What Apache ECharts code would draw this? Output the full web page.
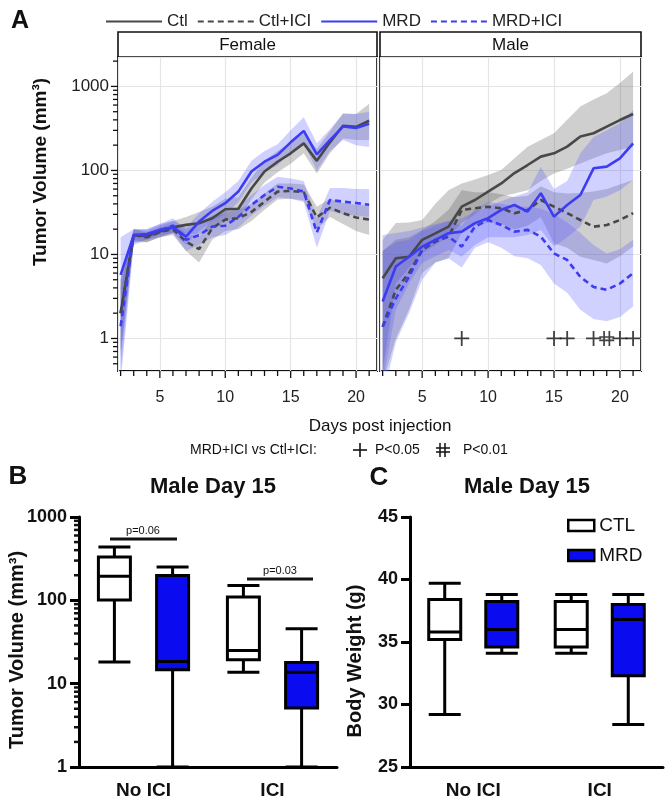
<!DOCTYPE html>
<html>
<head>
<meta charset="utf-8">
<script src="https://cdn.jsdelivr.net/npm/echarts@6/dist/echarts.min.js"></script>
<style>
  html, body { margin: 0; padding: 0; background: #fff; }
  #chart { width: 665px; height: 800px; }
</style>
</head>
<body>
<div id="chart"></div>
<script>
// ── Datos panel A (volumen tumoral, media y banda) ─────────────────────────
const days = [2, 3, 4, 5, 6, 7, 8, 9, 10, 11, 12, 13, 14, 15, 16, 17, 18, 19, 20, 21];

// Female
const fCtl   = [2.0, 17, 16.5, 18.7, 21, 22.5, 23.5, 27, 34.5, 35, 61, 97, 127, 160, 210, 130, 216, 340, 330, 390];
const fCtlLo = [0.6, 14, 14, 16, 18, 18, 17, 20, 25, 26, 45, 72, 95, 120, 160, 92, 160, 240, 230, 230];
const fCtlHi = [5, 20, 19, 22, 25, 28, 32, 37, 46, 48, 82, 130, 170, 215, 275, 180, 290, 480, 470, 620];
const fMrd   = [5.7, 17, 17.5, 19.6, 21, 16.3, 24.6, 33, 40.7, 56, 97, 127, 153, 216, 295, 155, 230, 333, 320, 360];
const fMrdLo = [0.3, 13, 15, 17, 18, 13, 19, 25, 30, 42, 72, 95, 115, 165, 210, 100, 170, 230, 200, 190];
const fMrdHi = [16, 20, 20, 23, 25, 21, 31, 42, 55, 75, 130, 170, 205, 300, 430, 210, 310, 470, 470, 500];
const fCi    = [2.0, 17, 16, 18.5, 20, 14.2, 11.6, 20.5, 26, 27, 32, 42.5, 56, 57, 55, 27.6, 36, 31, 27.5, 26];
const fCiLo  = [0.7, 15, 14, 16, 17, 11, 8, 15, 19, 20, 25, 34, 45, 46, 44, 20, 28, 23, 19, 17];
const fCiHi  = [5, 20, 18, 21, 23, 18, 16, 27, 33, 34, 40, 53, 70, 70, 68, 37, 46, 41, 39, 38];
const fMi    = [1.4, 17, 17, 19, 22, 14.9, 17, 21.5, 22, 28, 38.7, 51, 64, 61, 56, 18.3, 44.5, 42.5, 41, 39];
const fMiLo  = [0.4, 14, 15, 16, 18, 11, 13, 16, 17, 21, 29, 38, 48, 46, 42, 12, 33, 30, 29, 28];
const fMiHi  = [4, 20, 20, 23, 27, 20, 23, 29, 30, 37, 51, 67, 84, 80, 75, 27, 62, 62, 60, 60];

// Male
const mCtl   = [5.2, 9.0, 9.4, 14.9, 17.8, 21.4, 37, 44.5, 56, 70, 93, 116, 146, 160, 192, 253, 277, 333, 398, 470];
const mCtlLo = [0.4, 4.5, 7, 10.3, 13, 16.3, 23.6, 30, 40, 49, 53, 58, 75, 92, 105, 121, 140, 160, 175, 192];
const mCtlHi = [14.9, 23.6, 24, 25.7, 40, 58, 70, 78, 88, 101, 140, 192, 230, 277, 400, 575, 700, 830, 1100, 1500];
const mMrd   = [2.75, 7.2, 9.4, 12.4, 14.9, 17.9, 18.7, 23.6, 27, 34, 38.8, 32.4, 53.5, 28.2, 38.8, 51, 106, 111, 139, 210];
const mMrdLo = [0.3, 2.2, 4.5, 7.9, 9.5, 11.3, 9.4, 13, 16, 16, 16, 17, 19.6, 12.4, 16, 21.4, 44.5, 49, 58, 77];
const mMrdHi = [17, 18, 19, 21, 23, 25, 27, 32, 37, 43, 49, 55, 110, 60, 75, 160, 250, 300, 364, 525];
const mCi    = [1.38, 3.8, 6.0, 11.3, 14.2, 16.3, 33.8, 35.4, 37, 35.4, 31, 33.8, 44.5, 37, 31, 25.7, 21.4, 22.4, 25.7, 31];
const mCiLo  = [0.3, 1.0, 2.2, 6, 8, 9, 18, 22, 24, 23, 20, 22, 28, 13.5, 12, 9.4, 8.6, 7.8, 9.5, 12.4];
const mCiHi  = [11, 15, 16, 19.6, 25, 34, 58, 55, 55, 52, 48, 50, 65, 55, 53, 54, 56, 60, 68, 77];
const mMi    = [1.38, 3.0, 5.4, 11.3, 14.9, 16.3, 12.4, 21.4, 25.7, 22.4, 18.7, 19.6, 16.3, 10.3, 8.6, 5.4, 4.1, 3.8, 4.5, 6.0];
const mMiLo  = [0.2, 0.9, 2, 5, 8, 9, 7, 12, 14, 12, 9.5, 9, 7.5, 4.5, 3.5, 2.2, 1.7, 1.6, 1.8, 2.4];
const mMiHi  = [11, 14, 15, 19, 22, 25, 22, 35, 42, 40, 37, 37, 35, 30, 24, 18, 13, 10.3, 11.5, 15];

// Significancia MRD+ICI vs Ctl+ICI (Male)
const plusDays = [8, 15, 16, 18, 20, 21];
const hashDays = [19];

// ── Datos paneles B y C: [min, Q1, mediana, Q3, max] ───────────────────────
const groups = ["No ICI", "ICI"];
const tumorCtl = [[18.2, 101, 194, 330, 437], [13.7, 19.4, 25, 110, 151]];
const tumorMrd = [[1, 14.7, 18.4, 198, 251], [1, 5.1, 13.7, 18, 45.7]];
const weightCtl = [[29.2, 35.2, 35.8, 38.4, 39.7], [34.1, 34.6, 36.0, 38.25, 38.8]];
const weightMrd = [[34.1, 34.6, 36.0, 38.25, 38.8], [28.4, 32.3, 36.8, 38.0, 38.8]];

// ── Estilos ─────────────────────────────────────────────────────────────────
const FONT = "'Liberation Sans', Arial, sans-serif";
const gris = "#484848";
const azul = "#3c3cf2";
const bandaGris = "rgba(95,95,95,0.30)";
const bandaAzul = "rgba(85,85,255,0.27)";
const azulCaja = "#0b0bf0";
const rejilla = "#e4e4e4";

const pares = (vals) => days.map((d, i) => [d, vals[i]]);

// banda (poligono) entre lo y hi, calculada con la escala del eje
const banda = (eje, lo, hi, color) => ({
   type: "custom", xAxisIndex: eje, yAxisIndex: eje, silent: true, clip: true, z: 1,
   data: days.map((d, i) => [d, lo[i], hi[i]]),
   encode: { x: 0, y: [1, 2] },
   renderItem: (params, api) => {
      if (params.dataIndex !== 0) return null;
      const arriba = days.map((d, i) => api.coord([d, hi[i]]));
      const abajo = days.map((d, i) => api.coord([d, lo[i]])).reverse();
      const cs = params.coordSys;
      return {
         type: "polygon",
         shape: { points: arriba.concat(abajo) },
         style: { fill: color },
         clipPath: { type: "rect", shape: { x: cs.x, y: cs.y, width: cs.width, height: cs.height } }
      };
   }
});

const linea = (eje, nombre, vals, color, punteada) => ({
   name: nombre, type: "line", xAxisIndex: eje, yAxisIndex: eje,
   data: pares(vals), symbol: "none", z: 4, silent: true,
   itemStyle: { color: color },
   lineStyle: { color: color, width: 2.6, type: punteada ? [6, 4] : "solid" }
});

// marcas de eje dibujadas con la escala de la libreria
const marcas = (eje, datos, largoMayor, largoMenor, grosor) => ({
   type: "custom", xAxisIndex: eje, yAxisIndex: eje, silent: true, clip: false, z: 6,
   data: datos,
   renderItem: (params, api) => {
      const cs = params.coordSys;
      const tipo = api.value(2);
      const largo = api.value(3) ? largoMayor : largoMenor;
      const p = api.coord([api.value(0), api.value(1)]);
      if (tipo === 0) {
         const y0 = cs.y + cs.height;
         return { type: "line", shape: { x1: p[0], y1: y0, x2: p[0], y2: y0 + largo }, style: { stroke: "#111", lineWidth: grosor } };
      }
      return { type: "line", shape: { x1: cs.x - largo, y1: p[1], x2: cs.x, y2: p[1] }, style: { stroke: "#111", lineWidth: grosor } };
   }
});

const marcasX = days.map(d => [d, 1, 0, d % 5 === 0 ? 1 : 0]);
const marcasYLog = (desde, hasta, lo, hi, xRef) => {
   const res = [];
   for (let k = desde; k <= hasta; k++) {
      for (let m = 1; m <= 9; m++) {
         const v = m * Math.pow(10, k);
         if (v >= lo && v <= hi) res.push([xRef, v, 1, m === 1 ? 1 : 0]);
      }
   }
   return res;
};
const marcasFemale = marcasX.concat(marcasYLog(-1, 3, 0.42, 2200, 5));
const marcasB = marcasYLog(0, 2, 1.5, 950, 0).filter(m => m[3] === 0);

const ejeDias = (grid) => ({
   type: "value", gridIndex: grid, min: 1.8, max: 21.6, splitNumber: 4,
   axisLine: { show: false }, axisTick: { show: false },
   axisLabel: { fontSize: 16, color: "#222", fontFamily: FONT, margin: 19, showMinLabel: false, showMaxLabel: false },
   splitLine: { lineStyle: { color: rejilla, width: 1.2 } }
});

const ejeVolumen = (grid, etiquetas) => ({
   type: "log", logBase: 10, gridIndex: grid, min: 0.41, max: 2240,
   axisLine: { show: false }, axisTick: { show: false },
   axisLabel: {
      show: etiquetas, fontSize: 17, color: "#222", fontFamily: FONT, margin: 9,
      showMinLabel: false, showMaxLabel: false,
      formatter: v => String(Math.round(v))
   },
   splitLine: { lineStyle: { color: rejilla, width: 1.2 } }
});

const ejeGrupo = (grid) => ({
   type: "category", gridIndex: grid, data: groups,
   axisLine: { lineStyle: { color: "#000", width: 3 } },
   axisTick: { alignWithLabel: true, length: 10, lineStyle: { color: "#000", width: 3 } },
   axisLabel: { fontSize: 19, fontWeight: "bold", color: "#111", fontFamily: FONT, margin: 14 },
   splitLine: { show: false }
});

const ejeNegrita = {
   axisLine: { show: true, lineStyle: { color: "#000", width: 3 } },
   axisTick: { show: true, length: 9, lineStyle: { color: "#000", width: 3 } },
   axisLabel: { fontSize: 18, fontWeight: "bold", color: "#111", fontFamily: FONT, margin: 12 },
   splitLine: { show: false }
};

const caja = (eje, nombre, datos, relleno) => ({
   name: nombre, type: "boxplot", xAxisIndex: eje, yAxisIndex: eje,
   data: datos, boxWidth: [32, 32], silent: true,
   itemStyle: { color: relleno, borderColor: "#000", borderWidth: 3 }
});

const texto = (t, x, y, size, extra) => ({
   type: "text", x: x, y: y, silent: true,
   style: { text: t, fontSize: size, fontFamily: FONT, fill: "#111", align: "center", verticalAlign: "middle", ...(extra || {}) }
});
const textoVertical = (t, x, y, size) => ({ ...texto(t, x, y, size, { fontWeight: "bold" }), rotation: Math.PI / 2 });
const trazo = (x1, y1, x2, y2, w) => ({
   type: "line", silent: true, shape: { x1, y1, x2, y2 }, style: { stroke: "#111", lineWidth: w }
});
const tiraPanel = (x, w, t) => ([
   { type: "rect", silent: true, shape: { x: x, y: 32, width: w, height: 25 }, style: { fill: "#fff", stroke: "#111", lineWidth: 1.6 } },
   texto(t, x + w / 2, 45, 17)
]);

const chart = echarts.init(document.getElementById("chart"));

chart.setOption({
   animation: false,
   backgroundColor: "#fff",
   textStyle: { fontFamily: FONT },
   grid: [
      { left: 118, top: 57, width: 259, height: 314, show: true, borderColor: "#111", borderWidth: 1.8, backgroundColor: "transparent" },
      { left: 380, top: 57, width: 261, height: 314, show: true, borderColor: "#111", borderWidth: 1.8, backgroundColor: "transparent" },
      { left: 79, top: 517, width: 258, height: 250 },
      { left: 410, top: 517, width: 253, height: 250 }
   ],
   xAxis: [ejeDias(0), ejeDias(1), ejeGrupo(2), ejeGrupo(3)],
   yAxis: [
      ejeVolumen(0, true),
      ejeVolumen(1, false),
      { type: "log", logBase: 10, gridIndex: 2, min: 1, max: 1000, ...ejeNegrita,
        axisLabel: { ...ejeNegrita.axisLabel, formatter: v => String(Math.round(v)) } },
      { type: "value", gridIndex: 3, min: 25, max: 45, interval: 5, ...ejeNegrita }
   ],
   legend: [
      {
         data: ["Ctl", "Ctl+ICI", "MRD", "MRD+ICI"],
         left: 100, top: 8, itemWidth: 56, itemHeight: 16, itemGap: 9,
         selectedMode: false,
         itemStyle: { color: "rgba(0,0,0,0)", borderWidth: 0, opacity: 0 },
         textStyle: { fontSize: 17, color: "#222", fontFamily: FONT }
      },
      {
         data: [
            { name: "CTL", icon: "rect", itemStyle: { color: "#fff", borderColor: "#000", borderWidth: 2.5 } },
            { name: "MRD ", icon: "rect", itemStyle: { color: azulCaja, borderColor: "#000", borderWidth: 2.5 } }
         ],
         formatter: n => n.trim(),
         orient: "vertical", left: 562, top: 511, itemWidth: 26, itemHeight: 11, itemGap: 11,
         selectedMode: false,
         textStyle: { fontSize: 19, color: "#111", fontFamily: FONT }
      }
   ],
   series: [
      // bandas
      banda(0, fCtlLo, fCtlHi, bandaGris),
      banda(0, fCiLo, fCiHi, bandaGris),
      banda(0, fMrdLo, fMrdHi, bandaAzul),
      banda(0, fMiLo, fMiHi, bandaAzul),
      banda(1, mCtlLo, mCtlHi, bandaGris),
      banda(1, mCiLo, mCiHi, bandaGris),
      banda(1, mMrdLo, mMrdHi, bandaAzul),
      banda(1, mMiLo, mMiHi, bandaAzul),
      // medias
      linea(0, "Ctl", fCtl, gris, false),
      linea(0, "Ctl+ICI", fCi, gris, true),
      linea(0, "MRD", fMrd, azul, false),
      linea(0, "MRD+ICI", fMi, azul, true),
      linea(1, "Ctl", mCtl, gris, false),
      linea(1, "Ctl+ICI", mCi, gris, true),
      linea(1, "MRD", mMrd, azul, false),
      linea(1, "MRD+ICI", mMi, azul, true),
      // significancia
      {
         type: "scatter", xAxisIndex: 1, yAxisIndex: 1, silent: true, z: 7,
         data: plusDays.map(d => [d, 1]),
         symbol: "path://M6.6,0H8.4V15H6.6Z M0,6.6H15V8.4H0Z", symbolSize: 15,
         itemStyle: { color: "#111" }
      },
      {
         type: "scatter", xAxisIndex: 1, yAxisIndex: 1, silent: true, z: 7,
         data: hashDays.map(d => [d, 1]),
         symbol: "path://M4,0H5.7V15H4Z M9.3,0H11V15H9.3Z M0,5.2H15V6.8H0Z M0,8.6H15V10.2H0Z", symbolSize: 15,
         itemStyle: { color: "#111" }
      },
      // marcas de ejes
      marcas(0, marcasFemale, 7, 5, 1.3),
      marcas(1, marcasX, 7, 5, 1.3),
      marcas(2, marcasB, 9, 5, 2.5),
      // cajas
      caja(2, "CTL", tumorCtl, "#fff"),
      caja(2, "MRD ", tumorMrd, azulCaja),
      caja(3, "CTL", weightCtl, "#fff"),
      caja(3, "MRD ", weightMrd, azulCaja)
   ],
   graphic: [
      texto("A", 20, 21, 25, { fontWeight: "bold" }),
      ...tiraPanel(118, 259, "Female"),
      ...tiraPanel(380, 261, "Male"),
      textoVertical("Tumor Volume (mm³)", 41, 172, 19),
      texto("Days post injection", 380, 426, 17),
      texto("MRD+ICI vs Ctl+ICI:", 190, 450, 14, { align: "left" }),
      trazo(353, 450, 367, 450, 1.6), trazo(360, 443, 360, 457, 1.6),
      texto("P<0.05", 375, 450, 14, { align: "left" }),
      trazo(440, 443, 440, 457, 1.5), trazo(445, 443, 445, 457, 1.5),
      trazo(436, 448, 450, 448, 1.5), trazo(436, 452, 450, 452, 1.5),
      texto("P<0.01", 463, 450, 14, { align: "left" }),
      // B
      texto("B", 18, 477, 26, { fontWeight: "bold" }),
      texto("Male Day 15", 213, 487, 22, { fontWeight: "bold" }),
      textoVertical("Tumor Volume (mm³)", 17, 650, 20),
      trazo(110, 539, 177, 539, 3),
      texto("p=0.06", 143, 531, 11),
      trazo(247, 579, 313, 579, 3),
      texto("p=0.03", 280, 571, 11),
      // C
      texto("C", 379, 478, 26, { fontWeight: "bold" }),
      texto("Male Day 15", 527, 487, 22, { fontWeight: "bold" }),
      textoVertical("Body Weight (g)", 355, 661, 20)
   ]
});

window.addEventListener("resize", () => chart.resize());
</script>
</body>
</html>
